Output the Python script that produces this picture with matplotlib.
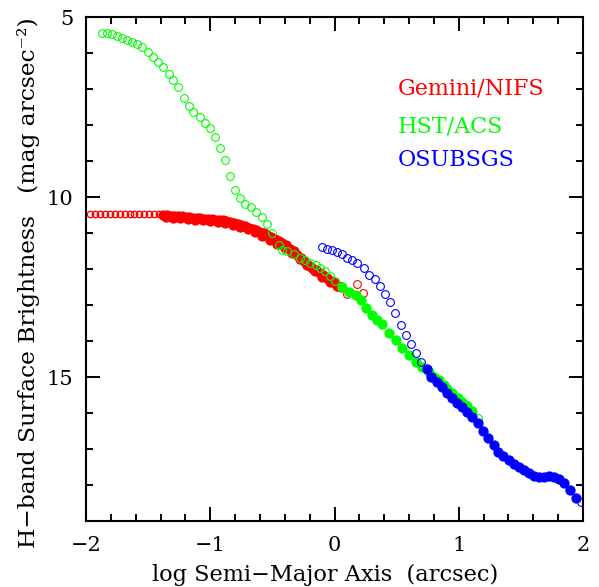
import matplotlib
matplotlib.use("Agg")
from matplotlib import pyplot as plt
from matplotlib.ticker import MultipleLocator

# Gemini/NIFS (red)
nifs_open_x = [-1.97, -1.93, -1.89, -1.85, -1.81, -1.77, -1.73, -1.69, -1.65,
               -1.61, -1.57, -1.53, -1.49, -1.45, -1.41]
nifs_open_y = [10.47, 10.47, 10.47, 10.47, 10.47, 10.47, 10.47, 10.47, 10.47,
               10.47, 10.47, 10.47, 10.48, 10.48, 10.48]
nifs_x = [-1.38, -1.35, -1.32, -1.29, -1.26, -1.23, -1.20, -1.17, -1.14, -1.11,
          -1.08, -1.05, -1.02, -0.99, -0.96, -0.93, -0.90, -0.87, -0.84, -0.81,
          -0.78, -0.75, -0.72, -0.69, -0.66, -0.63, -0.60, -0.57, -0.54, -0.51,
          -0.48, -0.45, -0.42, -0.39, -0.36, -0.33, -0.30, -0.27, -0.24, -0.21,
          -0.18, -0.15, -0.12, -0.09, -0.06, -0.03, 0.00, 0.03, 0.05]
nifs_y = [10.50, 10.51, 10.52, 10.52, 10.53, 10.54, 10.55, 10.56, 10.57, 10.58,
          10.59, 10.60, 10.61, 10.62, 10.63, 10.64, 10.65, 10.67, 10.68, 10.71,
          10.74, 10.77, 10.80, 10.85, 10.88, 10.92, 10.96, 11.01, 11.06, 11.11,
          11.16, 11.22, 11.27, 11.34, 11.43, 11.50, 11.60, 11.68, 11.80, 11.90,
          11.96, 12.02, 12.10, 12.17, 12.25, 12.32, 12.40, 12.46, 12.50]
# second run of NIFS points (the band's lower edge)
nifs_x2 = [-1.36, -1.30, -1.24, -1.18, -1.12, -1.06, -1.00, -0.94, -0.88,
           -0.82, -0.76, -0.70, -0.64, -0.58, -0.52, -0.46, -0.40, -0.34,
           -0.28, -0.22, -0.16, -0.10, -0.04, 0.02]
nifs_y2 = [10.56, 10.58, 10.59, 10.61, 10.63, 10.65, 10.67, 10.69, 10.72,
           10.77, 10.83, 10.90, 10.98, 11.08, 11.18, 11.30, 11.42, 11.56,
           11.72, 11.90, 12.06, 12.22, 12.36, 12.48]
nifs_out_x = [0.10, 0.185, 0.226]
nifs_out_y = [12.70, 12.42, 12.67]

# HST/ACS (green)
acs_open_x = [-1.873, -1.833, -1.793, -1.752, -1.712, -1.672, -1.631, -1.591,
              -1.551, -1.502, -1.462, -1.417, -1.377, -1.336, -1.296, -1.256,
              -1.215, -1.169, -1.135, -1.086, -1.046, -1.006, -0.960, -0.919,
              -0.879, -0.839, -0.798, -0.758, -0.718, -0.672, -0.629, -0.586,
              -0.544, -0.504, -0.449, -0.422, -0.379, -0.323, -0.274, -0.234,
              -0.194, -0.153, -0.113, -0.073, -0.040, 0.000, 1.070, 1.151]
acs_open_y = [5.44, 5.45, 5.48, 5.53, 5.59, 5.64, 5.69, 5.76,
              5.84, 5.97, 6.10, 6.25, 6.40, 6.58, 6.76, 6.95,
              7.26, 7.47, 7.63, 7.79, 7.93, 8.08, 8.33, 8.65,
              8.97, 9.42, 9.81, 10.03, 10.18, 10.29, 10.42, 10.56,
              10.76, 11.01, 11.33, 11.47, 11.50, 11.58, 11.68, 11.76,
              11.83, 11.90, 11.97, 12.06, 12.19, 12.33, 15.78, 16.15]
acs_x = [0.062, 0.115, 0.169, 0.210, 0.250, 0.304, 0.344, 0.385, 0.438, 0.492,
         0.546, 0.599, 0.653, 0.707, 0.758, 0.798, 0.841, 0.879, 0.909, 0.944,
         0.990, 1.024, 1.070, 1.105]
acs_y = [12.49, 12.63, 12.72, 12.86, 13.09, 13.28, 13.42, 13.53, 13.79, 13.97,
         14.20, 14.39, 14.58, 14.71, 14.86, 15.00, 15.08, 15.22, 15.33, 15.44,
         15.57, 15.68, 15.81, 15.94]

# OSUBSGS (blue)
osu_open_x = [-0.099, -0.059, -0.019, 0.022, 0.062, 0.102, 0.143, 0.183, 0.236,
              0.277, 0.323, 0.365, 0.406, 0.446, 0.490, 0.532, 0.573, 0.613,
              0.653, 0.694, 1.984]
osu_open_y = [11.38, 11.43, 11.47, 11.52, 11.58, 11.68, 11.75, 11.84, 11.98,
              12.17, 12.29, 12.47, 12.68, 12.92, 13.21, 13.56, 13.83, 14.09,
              14.34, 14.58, 18.48]
osu_x = [0.742, 0.780, 0.823, 0.863, 0.903, 0.944, 0.984, 1.030, 1.070, 1.110,
         1.151, 1.196, 1.236, 1.280, 1.317, 1.360, 1.401, 1.446, 1.486, 1.527,
         1.567, 1.607, 1.648, 1.688, 1.728, 1.769, 1.809, 1.849, 1.898, 1.944]
osu_y = [14.79, 14.99, 15.13, 15.29, 15.44, 15.58, 15.71, 15.84, 15.98, 16.12,
         16.29, 16.49, 16.69, 16.89, 17.08, 17.19, 17.31, 17.42, 17.49, 17.58,
         17.66, 17.74, 17.77, 17.77, 17.75, 17.79, 17.84, 17.95, 18.14, 18.37]

labels = ["Gemini/NIFS", "HST/ACS", "OSUBSGS"]
colors = ["#ff0000", "#00ff00", "#0000ff"]
label_y = [0.859, 0.782, 0.716]

plt.rcParams["font.family"] = ["DejaVu Serif"]

fig = plt.figure(figsize=(5.99, 5.87), dpi=100)
ax = fig.add_axes([0.1436, 0.1124, 0.8297, 0.8586])

ms_open = 5.6
ms_fill = 6.4
ew = 0.8

# red
ax.plot(nifs_open_x, nifs_open_y, "o", ms=4.6, mfc="none", mec=colors[0], mew=1.0)
ax.plot(nifs_x, nifs_y, "o", ms=ms_fill, color=colors[0], ls="none")
ax.plot(nifs_x2, nifs_y2, "o", ms=ms_fill, color=colors[0], ls="none")
ax.plot(nifs_out_x, nifs_out_y, "o", ms=ms_open, mfc="none", mec=colors[0],
        mew=ew, ls="none")
# green
ax.plot(acs_open_x, acs_open_y, "o", ms=ms_open, mfc="none", mec=colors[1],
        mew=ew, ls="none")
ax.plot(acs_x, acs_y, "o", ms=ms_fill, color=colors[1], ls="none")
# blue
ax.plot(osu_open_x, osu_open_y, "o", ms=ms_open, mfc="none", mec=colors[2],
        mew=ew, ls="none")
ax.plot(osu_x, osu_y, "o", ms=ms_fill, color=colors[2], ls="none")

# legend as coloured text
for lab, c, yy in zip(labels, colors, label_y):
    ax.text(0.628, yy, lab, color=c, fontsize=16,
            transform=ax.transAxes, va="center", ha="left")

ax.set_xlim(-2, 2)
ax.set_ylim(19, 5)
ax.xaxis.set_minor_locator(MultipleLocator(0.2))
ax.yaxis.set_minor_locator(MultipleLocator(1))
ax.set_xticks([-2, -1, 0, 1, 2])
ax.set_xticklabels(["\u22122", "\u22121", "0", "1", "2"])
ax.set_yticks([5, 10, 15])
ax.set_yticklabels(["5", "10", "15"])

ax.tick_params(which="both", direction="in", top=True, right=True,
               width=1.4, labelsize=15)
ax.tick_params(which="major", length=10)
ax.tick_params(which="minor", length=5)
ax.tick_params(axis="x", pad=11)
ax.tick_params(axis="y", pad=9)
for sp in ax.spines.values():
    sp.set_linewidth(1.5)

ax.set_xlabel("log Semi\u2212Major Axis  (arcsec)", fontsize=16.2)
ax.xaxis.set_label_coords(0.481, -0.085)
ax.set_ylabel("H\u2212band Surface Brightness   (mag arcsec\u207b\u00b2)",
              fontsize=16.8)
ax.yaxis.set_label_coords(-0.093, 0.474)

fig.savefig("out.png", dpi=100)
